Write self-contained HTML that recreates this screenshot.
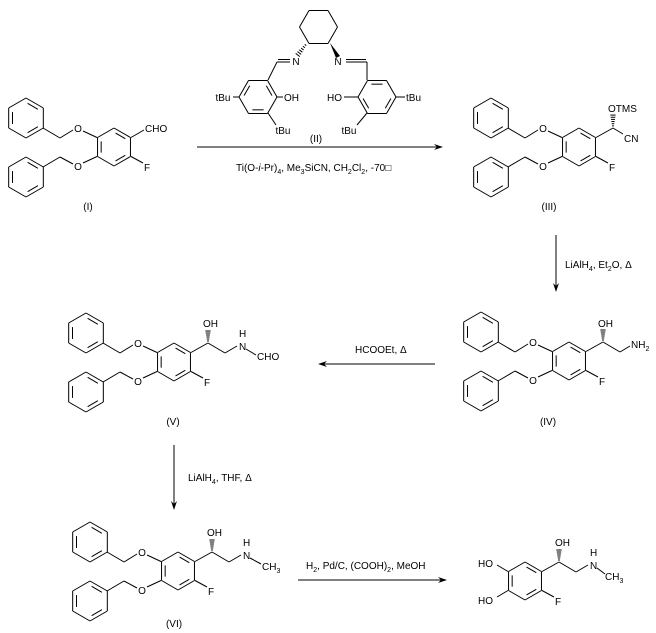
<!DOCTYPE html>
<html><head><meta charset="utf-8"><style>
html,body{margin:0;padding:0;background:#fff;}
svg{display:block;}
text{font-family:"Liberation Sans",Arial,sans-serif;font-size:10px;fill:#000;}
.s{font-size:7px;}
</style></head><body>
<svg id="c" width="656" height="633" viewBox="0 0 656 633" xmlns="http://www.w3.org/2000/svg">
<g id="L" stroke="#000" stroke-width="1" fill="none"></g>
<g id="F" fill="#000"></g>
<!-- (I) -->
<text x="78" y="132" text-anchor="middle">O</text>
<text x="78" y="170" text-anchor="middle">O</text>
<text x="145" y="132">CHO</text>
<text x="144" y="171">F</text>
<text x="88" y="210" text-anchor="middle">(I)</text>
<!-- (II) -->
<text x="296" y="65" text-anchor="middle">N</text>
<text x="338" y="65" text-anchor="middle">N</text>
<text x="223" y="101" text-anchor="middle">tBu</text>
<text x="284" y="101">OH</text>
<text x="342" y="101" text-anchor="end">HO</text>
<text x="406" y="101">tBu</text>
<text x="283" y="134" text-anchor="middle">tBu</text>
<text x="349" y="134" text-anchor="middle">tBu</text>
<text x="316" y="142" text-anchor="middle">(II)</text>
<text x="236" y="171">Ti(O-<tspan font-style="italic">i</tspan>-Pr)<tspan class="s" dy="3">4</tspan><tspan dy="-3">, Me</tspan><tspan class="s" dy="3">3</tspan><tspan dy="-3">SiCN, CH</tspan><tspan class="s" dy="3">2</tspan><tspan dy="-3">Cl</tspan><tspan class="s" dy="3">2</tspan><tspan dy="-3">, -70□</tspan></text>
<!-- (III) -->
<text x="543" y="132" text-anchor="middle">O</text>
<text x="543" y="170" text-anchor="middle">O</text>
<text x="608" y="112">OTMS</text>
<text x="624" y="142">CN</text>
<text x="609" y="171">F</text>
<text x="549" y="210" text-anchor="middle">(III)</text>
<text x="565" y="268">LiAlH<tspan class="s" dy="3">4</tspan><tspan dy="-3">, Et</tspan><tspan class="s" dy="3">2</tspan><tspan dy="-3">O, Δ</tspan></text>
<!-- (IV) -->
<text x="533" y="346" text-anchor="middle">O</text>
<text x="533" y="384" text-anchor="middle">O</text>
<text x="598" y="327">OH</text>
<text x="631" y="348">NH<tspan class="s" dy="3">2</tspan></text>
<text x="599" y="385">F</text>
<text x="548" y="425" text-anchor="middle">(IV)</text>
<text x="355" y="353">HCOOEt, Δ</text>
<!-- (V) -->
<text x="138" y="347" text-anchor="middle">O</text>
<text x="138" y="385" text-anchor="middle">O</text>
<text x="203" y="327">OH</text>
<text x="239" y="337">H</text>
<text x="239" y="350">N</text>
<text x="257" y="360">CHO</text>
<text x="204" y="386">F</text>
<text x="173" y="425" text-anchor="middle">(V)</text>
<text x="188" y="481">LiAlH<tspan class="s" dy="3">4</tspan><tspan dy="-3">, THF, Δ</tspan></text>
<!-- (VI) -->
<text x="142" y="556" text-anchor="middle">O</text>
<text x="142" y="594" text-anchor="middle">O</text>
<text x="207" y="536">OH</text>
<text x="243" y="546">H</text>
<text x="243" y="559">N</text>
<text x="262" y="570">CH<tspan class="s" dy="3">3</tspan></text>
<text x="208" y="595">F</text>
<text x="174" y="627" text-anchor="middle">(VI)</text>
<text x="306" y="569">H<tspan class="s" dy="3">2</tspan><tspan dy="-3">, Pd/C, (COOH)</tspan><tspan class="s" dy="3">2</tspan><tspan dy="-3">, MeOH</tspan></text>
<!-- product -->
<text x="493" y="567" text-anchor="end">HO</text>
<text x="493" y="604" text-anchor="end">HO</text>
<text x="555" y="546">OH</text>
<text x="590" y="556">H</text>
<text x="590" y="569">N</text>
<text x="605" y="580">CH<tspan class="s" dy="3">3</tspan></text>
<text x="555" y="605">F</text>
</svg>
<script>
var L=document.getElementById('L'),F=document.getElementById('F'),NS='http://www.w3.org/2000/svg';
function ln(a,b,c,d){var e=document.createElementNS(NS,'line');e.setAttribute('x1',a);e.setAttribute('y1',b);e.setAttribute('x2',c);e.setAttribute('y2',d);L.appendChild(e);}
function pl(p){for(var i=0;i<p.length-2;i+=2)ln(p[i],p[i+1],p[i+2],p[i+3]);}
function poly(pts){var e=document.createElementNS(NS,'polygon');e.setAttribute('points',pts);F.appendChild(e);}
function ring(cx,cy,r,a0,dbl){var v=[];for(var k=0;k<6;k++){var a=(a0+60*k)*Math.PI/180;v.push([cx+r*Math.cos(a),cy+r*Math.sin(a)]);}
for(var k=0;k<6;k++){var p=v[k],q=v[(k+1)%6];ln(p[0],p[1],q[0],q[1]);}
dbl.forEach(function(k){var p=v[k],q=v[(k+1)%6],f=0.78;var p2=[cx+(p[0]-cx)*f,cy+(p[1]-cy)*f],q2=[cx+(q[0]-cx)*f,cy+(q[1]-cy)*f];var t=0.12;ln(p2[0]+(q2[0]-p2[0])*t,p2[1]+(q2[1]-p2[1])*t,q2[0]-(q2[0]-p2[0])*t,q2[1]-(q2[1]-p2[1])*t);});}
function hash(x1,y1,x2,y2){for(var i=1;i<=6;i++){var t=i/6.5,x=x1+(x2-x1)*t,y=y1+(y2-y1)*t,w=0.6+t*2.2;var dx=-(y2-y1),dy=(x2-x1),m=Math.hypot(dx,dy);dx/=m;dy/=m;ln(x-dx*w,y-dy*w,x+dx*w,y+dy*w);}}
function frag(dx,dy,hydroxy){
 if(!hydroxy){
 ring(26+dx,118+dy,20,-90,[0,2,4]);
 pl([43+dx,128+dy,60+dx,138+dy,73+dx,130+dy]);ln(83+dx,131+dy,97+dx,137.5+dy);
 ring(26+dx,177+dy,20,-90,[0,2,4]);
 pl([43+dx,167+dy,60+dx,157+dy,73+dx,164+dy]);ln(83+dx,163+dy,97+dx,156.5+dy);
 }
 ring(114+dx,147+dy,19,-90,[0,2,4]);
}
function arrowR(x1,x2,y){ln(x1,y,x2-4,y);poly((x2-9)+','+(y-3)+' '+x2+','+y+' '+(x2-9)+','+(y+3)+' '+(x2-6)+','+y);}
function arrowL(x1,x2,y){ln(x1,y,x2+4,y);poly((x2+9)+','+(y-3)+' '+x2+','+y+' '+(x2+9)+','+(y+3)+' '+(x2+6)+','+y);}
function arrowD(x,y1,y2){ln(x,y1,x,y2-4);poly((x-3)+','+(y2-9)+' '+x+','+y2+' '+(x+3)+','+(y2-9)+' '+x+','+(y2-6));}
// (I)
frag(0,0);ln(131,137.5,144,130);ln(131,156.5,143,163);
// (II)
ring(318.5,27,19,0,[]);
hash(307,43,297,56);
poly('330,43 340,56 336,58');
ln(290,62,277,62);ln(290,59.5,278,59.5);ln(277,62,268,80);
ring(258,97,19,0,[1,3,5]);ln(233,97,239,97);ln(277,97,283,97);ln(268,113,276,125);
ln(346,62,367,62);ln(346,59.5,366,59.5);ln(367,62,367,80);
ring(377,97,19,0,[0,2,4]);ln(344,97,358,97);ln(396,97,405,97);ln(367,113,357,125);
arrowR(197,443,147);
// (III)
frag(465,0);ln(596,137.5,613,128);hash(613,128,613,114);ln(613,128,623,134);ln(596,156.5,608,163);
arrowD(556,235,292);
// (IV)
frag(455,214);ln(586,351.5,603,342);hash(603,342,603,329);pl([603,342,620,352,630,346]);ln(586,370.5,598,377);
arrowL(435,318,364);
// (V)
frag(60,215);ln(191,352.5,208,343);hash(208,343,208,330);pl([208,343,225,353,237,346]);ln(246,349,256,355);ln(191,371.5,203,378);
arrowD(174,445,510);
// (VI)
frag(64,424);ln(195,561.5,212,552);hash(212,552,212,539);pl([212,552,229,562,241,555]);ln(250,558,261,564);ln(195,580.5,207,587);
arrowR(298,447,580);
// product
frag(411,434,true);ln(508,571.5,497,565);ln(508,590.5,497,597);
ln(542,571.5,559,562);hash(559,562,559,549);pl([559,562,576,572,588,565]);ln(597,568,605,574);ln(542,590.5,554,597);
</script>
</body></html>
